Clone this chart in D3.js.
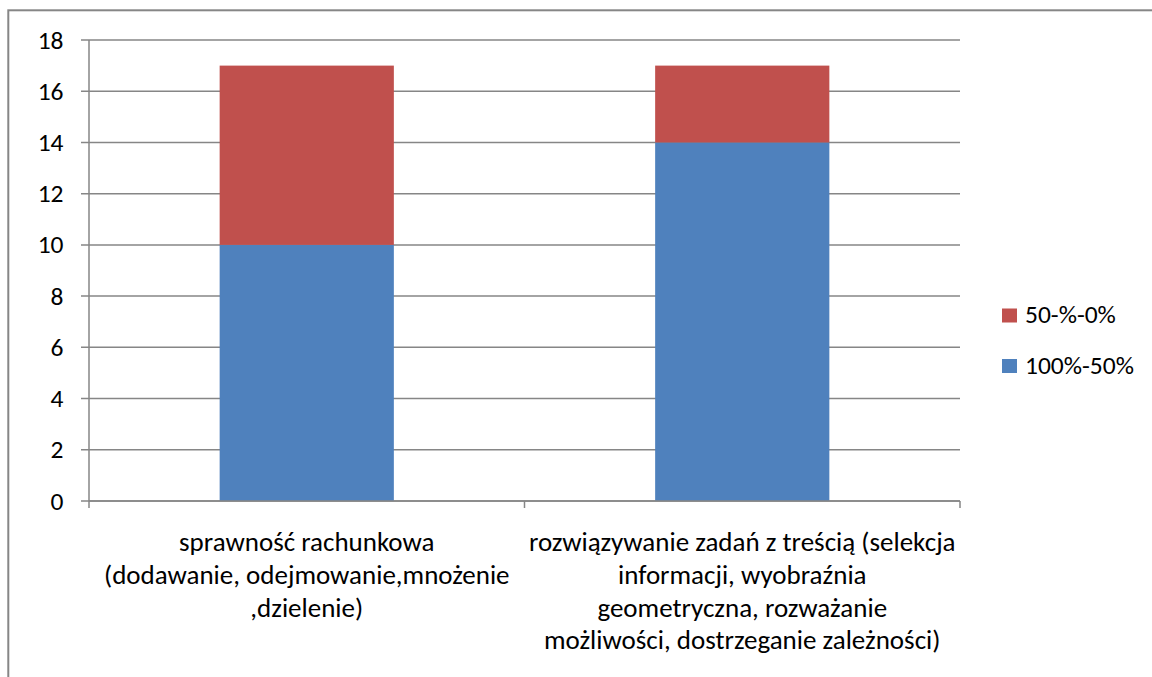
<!DOCTYPE html>
<html>
<head>
<meta charset="utf-8">
<script src="https://cdn.jsdelivr.net/npm/d3@7"></script>
<style>
  body { margin: 0; background: #fff; }
  text { font-family: Carlito, Calibri, Lato, sans-serif; fill: #000; }
</style>
</head>
<body>
<div id="viz"></div>
<script>
const categories = [
  ['sprawność rachunkowa', '(dodawanie, odejmowanie,mnożenie', ',dzielenie)'],
  ['rozwiązywanie zadań z treścią (selekcja', 'informacji, wyobraźnia', 'geometryczna, rozważanie', 'możliwości, dostrzeganie zależności)']
];
const high = [10, 14];   // 100%-50%
const low = [7, 3];      // 50-%-0%
const yTicks = [0, 2, 4, 6, 8, 10, 12, 14, 16, 18];
const seriesNames = ['50-%-0%', '100%-50%'];
const colors = { high: '#4F81BD', low: '#C0504D' };

const W = 1152, H = 677;
const pLeft = 89, pRight = 960, pTop = 40, pBottom = 501;

const svg = d3.select('#viz').append('svg')
  .attr('width', W).attr('height', H);

// outer frame
svg.append('rect')
  .attr('x', 8.3).attr('y', 10.3)
  .attr('width', W + 10).attr('height', H + 10)
  .attr('fill', 'none').attr('stroke', '#868686').attr('stroke-width', 2);

const x = d3.scaleBand().domain(d3.range(categories.length))
  .range([pLeft, pRight]).paddingInner(0.6).paddingOuter(0.3);
const y = d3.scaleLinear().domain([0, 18]).range([pBottom, pTop]);

// gridlines + y ticks
svg.append('g').selectAll('line').data(yTicks).join('line')
  .attr('x1', pLeft - 8).attr('x2', pRight)
  .attr('y1', d => y(d)).attr('y2', d => y(d))
  .attr('stroke', '#868686').attr('stroke-width', 1.5);

svg.append('g').selectAll('text').data(yTicks).join('text')
  .attr('x', 63.5).attr('y', d => y(d) + 8.5)
  .attr('text-anchor', 'end').attr('font-size', '25.5px')
  .text(d => d);

// bars
const g = svg.append('g');
g.selectAll('.hi').data(high).join('rect')
  .attr('x', (d, i) => x(i)).attr('width', x.bandwidth())
  .attr('y', d => y(d)).attr('height', d => y(0) - y(d))
  .attr('fill', colors.high);
g.selectAll('.lo').data(low).join('rect')
  .attr('x', (d, i) => x(i)).attr('width', x.bandwidth())
  .attr('y', (d, i) => y(high[i] + d)).attr('height', d => y(0) - y(d))
  .attr('fill', colors.low);

// axes lines
svg.append('line').attr('x1', pLeft).attr('x2', pLeft).attr('y1', pTop).attr('y2', pBottom)
  .attr('stroke', '#868686').attr('stroke-width', 1.5);
svg.append('line').attr('x1', pLeft).attr('x2', pRight).attr('y1', pBottom).attr('y2', pBottom)
  .attr('stroke', '#868686').attr('stroke-width', 1.5);
const step = (pRight - pLeft) / categories.length;
svg.append('g').selectAll('line').data(d3.range(categories.length + 1)).join('line')
  .attr('x1', d => pLeft + d * step).attr('x2', d => pLeft + d * step)
  .attr('y1', pBottom).attr('y2', pBottom + 7)
  .attr('stroke', '#868686').attr('stroke-width', 1.5);

// category labels
categories.forEach((lines, i) => {
  const cx = pLeft + (i + 0.5) * step;
  const t = svg.append('text').attr('text-anchor', 'middle').attr('font-size', '27px');
  lines.forEach((ln, j) => {
    t.append('tspan').attr('x', cx).attr('y', 551 + j * 32.8).text(ln);
  });
});

// legend
const legend = svg.append('g');
const legendColors = [colors.low, colors.high];
seriesNames.forEach((name, i) => {
  const ly = 323 + i * 50.5;
  legend.append('rect').attr('x', 1002).attr('y', ly - 14.5).attr('width', 15).attr('height', 14)
    .attr('fill', legendColors[i]);
  legend.append('text').attr('x', 1025).attr('y', ly).attr('font-size', '25.5px').text(name);
});
</script>
</body>
</html>
